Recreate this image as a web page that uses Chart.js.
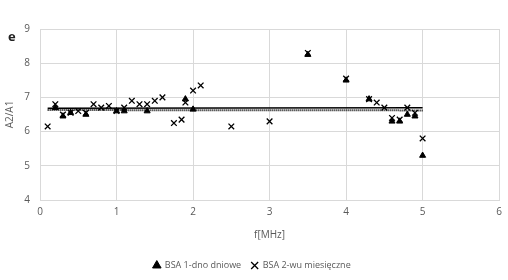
<!DOCTYPE html>
<html>
<head>
<meta charset="utf-8">
<script src="https://cdn.jsdelivr.net/npm/chart.js@4"></script>
<style>
  body { margin: 0; background: #fff; }
  #wrap { position: relative; width: 508px; height: 280px; }
  #tag { position: absolute; left: 8px; top: 27px; font: bold 13px "Open Sans", sans-serif; color: #222; }
</style>
</head>
<body>
<div id="wrap">
  <canvas id="chart" width="508" height="280"></canvas>
  <div id="tag">e</div>
</div>
<script>
// BSA 1-dno dniowe (triangles)
const freq1 = [0.2, 0.3, 0.4, 0.6, 1.0, 1.1, 1.4, 1.9, 2.0, 3.5, 4.0, 4.3, 4.6, 4.7, 4.8, 4.9, 5.0]
const ratio1 = [6.7, 6.45, 6.55, 6.5, 6.6, 6.6, 6.6, 6.95, 6.65, 8.25, 7.5, 6.95, 6.3, 6.3, 6.5, 6.45, 5.3]

// BSA 2-wu miesięczne (crosses)
const freq2 = [0.1, 0.2, 0.3, 0.4, 0.5, 0.6, 0.7, 0.8, 0.9, 1.0, 1.1, 1.2, 1.3, 1.4, 1.5, 1.6,
               1.75, 1.85, 1.9, 2.0, 2.1, 2.5, 3.0, 3.5, 4.0, 4.3, 4.4, 4.5, 4.6, 4.7, 4.8, 4.9, 5.0]
const ratio2 = [6.15, 6.8, 6.5, 6.55, 6.6, 6.55, 6.8, 6.7, 6.75, 6.6, 6.7, 6.9, 6.8, 6.8, 6.9, 7.0,
                6.25, 6.35, 6.85, 7.2, 7.35, 6.15, 6.3, 8.3, 7.55, 6.95, 6.85, 6.7, 6.4, 6.35, 6.7, 6.55, 5.8]

// linear trend lines (end points)
const trendX = [0.1, 5.0]
const trend1 = [6.63, 6.62]
const trend2 = [6.68, 6.70]

const toPts = (xs, ys) => xs.map((x, i) => ({ x: x, y: ys[i] }))

const font = { family: '"Open Sans", sans-serif', size: 10 }
const grey = '#595959'

new Chart(document.getElementById('chart'), {
    type: 'scatter',
    data: {
        datasets: [
            {
                label: 'BSA 1-dno dniowe',
                data: toPts(freq1, ratio1),
                pointStyle: 'triangle',
                pointRadius: 3.5,
                backgroundColor: '#000',
                borderColor: '#000',
                borderWidth: 1
            },
            {
                label: 'BSA 2-wu miesięczne',
                data: toPts(freq2, ratio2),
                pointStyle: 'crossRot',
                pointRadius: 4,
                backgroundColor: '#000',
                borderColor: '#000',
                borderWidth: 1.3
            },
            {
                label: 'trend1',
                type: 'line',
                data: toPts(trendX, trend1),
                borderColor: '#000',
                borderWidth: 2,
                borderDash: [1, 1],
                pointRadius: 0
            },
            {
                label: 'trend2',
                type: 'line',
                data: toPts(trendX, trend2),
                borderColor: '#000',
                borderWidth: 1.5,
                pointRadius: 0
            }
        ]
    },
    options: {
        responsive: false,
        animation: false,
        layout: { padding: { top: 29, right: 8, left: 4, bottom: 0 } },
        plugins: {
            tooltip: { enabled: false },
            legend: {
                position: 'bottom',
                labels: {
                    font: { family: font.family, size: 9 },
                    color: grey,
                    usePointStyle: true,
                    boxWidth: 7,
                    boxHeight: 7,
                    padding: 10,
                    filter: item => item.text.startsWith('BSA')
                }
            }
        },
        scales: {
            x: {
                type: 'linear',
                min: 0,
                max: 6,
                ticks: { stepSize: 1, color: grey, font: font, padding: 6 },
                grid: { color: '#d9d9d9', tickLength: 0 },
                border: { color: '#d9d9d9' },
                title: { display: true, text: 'f[MHz]', color: grey, font: font, padding: { top: 0, bottom: 10 } },
                afterFit: s => { s.height = 51 }
            },
            y: {
                min: 4,
                max: 9,
                ticks: { stepSize: 1, color: grey, font: font, padding: 10 },
                grid: { color: '#d9d9d9', tickLength: 0 },
                border: { color: '#d9d9d9' },
                title: { display: true, text: 'A2/A1', color: grey, font: font, padding: 0 },
                afterFit: s => { s.width = 36 }
            }
        }
    }
})
</script>
</body>
</html>
